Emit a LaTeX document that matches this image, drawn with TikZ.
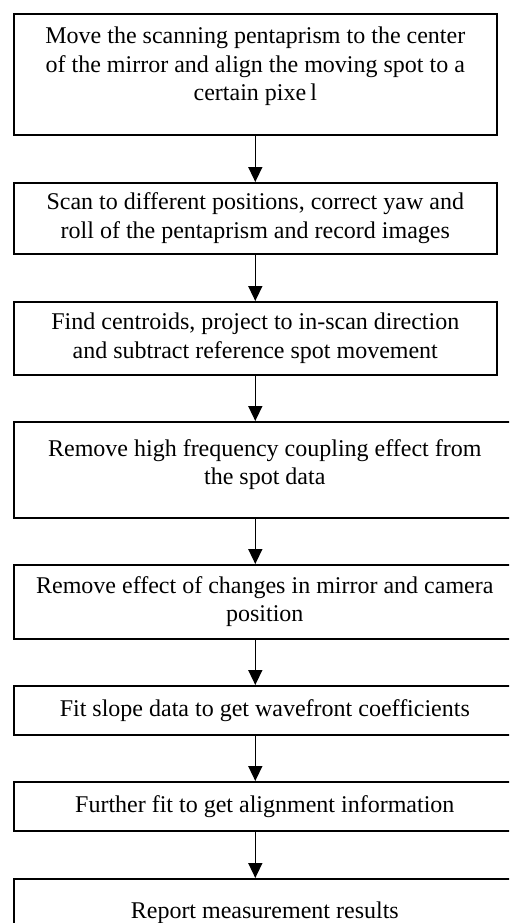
\documentclass[tikz,border=0pt]{standalone}
\usepackage{fontspec}
\setmainfont{Liberation Serif}
\usetikzlibrary{arrows.meta}

\begin{document}
\begin{tikzpicture}
[x=1pt,y=-1pt,every node/.style={draw,line width=1.6pt,anchor=north west,align=center,inner sep=0pt,font=\fontsize{24pt}{28.5pt}\selectfont}]
\useasboundingbox (0,0) rectangle (509,923);
\clip (0,0) rectangle (509,923);
% upper boxes
\node[minimum width=483pt,minimum height=121pt] (b1) at (13,13) {Move the scanning pentaprism to the center\\of the mirror and align the moving spot to a\\certain pixe\,l\\[-8pt]\mbox{}};
\node[minimum width=483pt,minimum height=71pt] (b2) at (13,182) {Scan to different positions, correct yaw and\\roll of the pentaprism and record images};
\node[minimum width=483pt,minimum height=73pt] (b3) at (13,301) {Find centroids, project to in-scan direction\\and subtract reference spot movement};
% lower boxes, wider and cut at the right
\node[minimum width=502pt,minimum height=96pt] (b4) at (13,421) {Remove high frequency coupling effect from\\the spot data\\[-13pt]\mbox{}};
\node[minimum width=502pt,minimum height=74pt] (b5) at (13,564) {Remove effect of changes in mirror and camera\\position};
\node[minimum width=502pt,minimum height=49pt] (b6) at (13,685) {Fit slope data to get wavefront coefficients};
\node[minimum width=502pt,minimum height=49pt] (b7) at (13,781) {Further fit to get alignment information};
\node[minimum width=502pt,minimum height=68pt] (b8) at (13,878) {Report measurement results};
\tikzset{EdgeStyle/.style={-{Triangle[length=15pt,width=14pt]},line width=1.5pt}}
\draw[EdgeStyle] (b1.south) -- (b2.north -| b1.south);
\draw[EdgeStyle] (b2.south) -- (b3.north -| b1.south);
\draw[EdgeStyle] (b3.south) -- (b4.north -| b1.south);
\draw[EdgeStyle] (b4.south -| b1.south) -- (b5.north -| b1.south);
\draw[EdgeStyle] (b5.south -| b1.south) -- (b6.north -| b1.south);
\draw[EdgeStyle] (b6.south -| b1.south) -- (b7.north -| b1.south);
\draw[EdgeStyle] (b7.south -| b1.south) -- (b8.north -| b1.south);
\end{tikzpicture}
\end{document}
